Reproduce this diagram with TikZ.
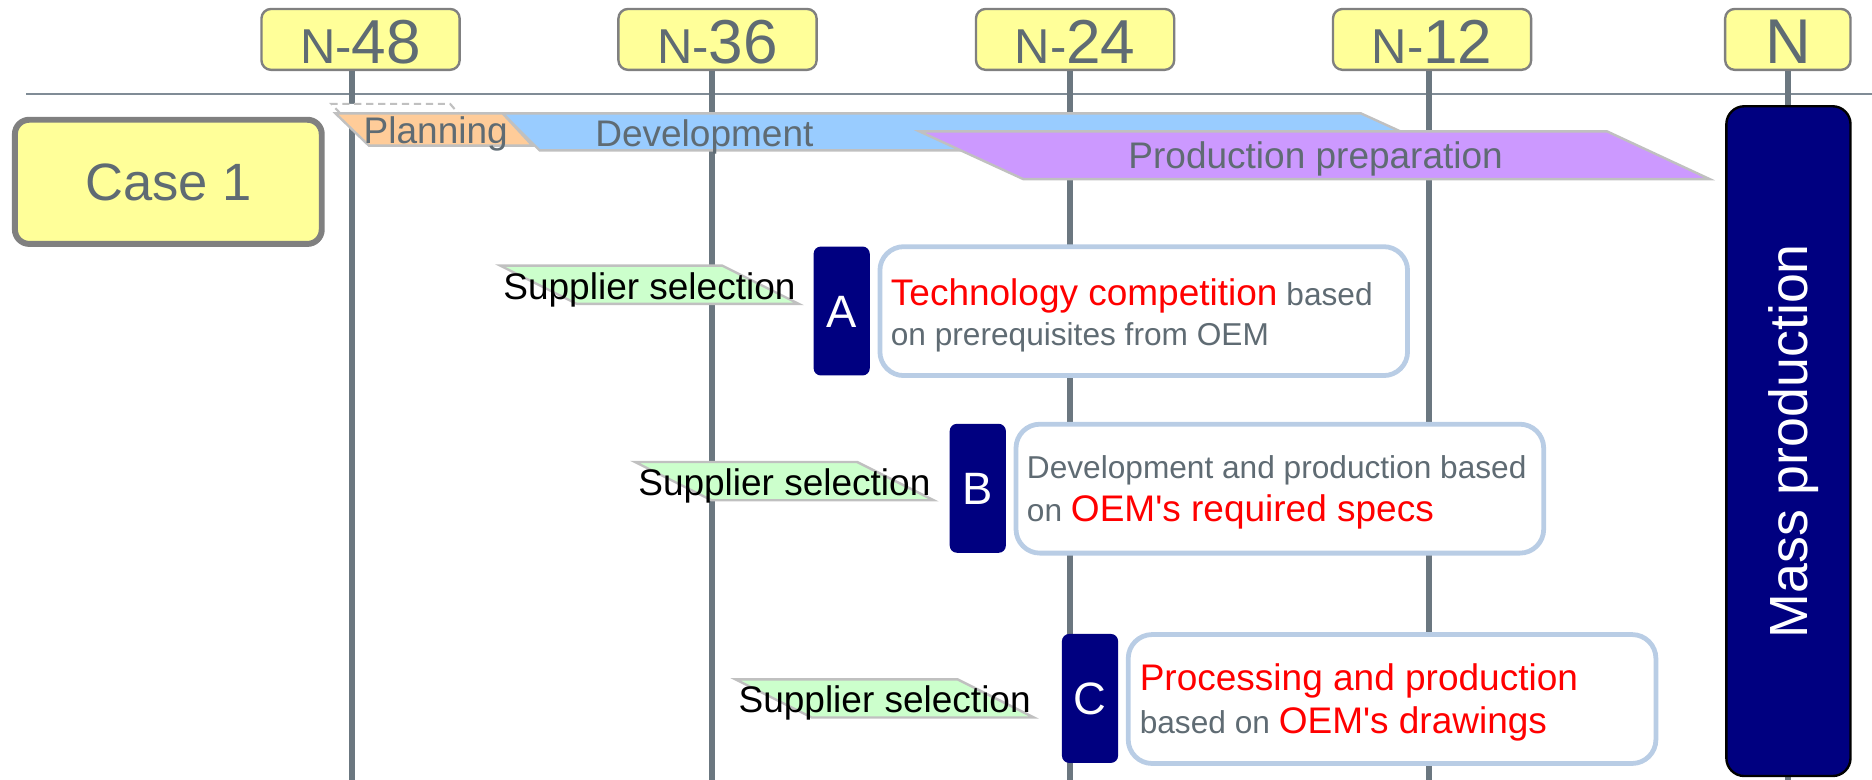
\documentclass[tikz,border=0pt]{standalone}
\usepackage{fontspec}
\setmainfont{Liberation Sans}[Ligatures=TeXOff]
\definecolor{slate}{RGB}{95,107,115}
\definecolor{vlinec}{RGB}{107,119,128}
\definecolor{hlinec}{RGB}{128,140,150}
\definecolor{boxgray}{RGB}{128,128,128}
\definecolor{lyellow}{RGB}{255,255,153}
\definecolor{navyc}{RGB}{0,0,128}
\definecolor{lblue}{RGB}{185,205,229}
\definecolor{lgreen}{RGB}{204,255,204}
\definecolor{bandb}{RGB}{192,192,192}
\definecolor{planc}{RGB}{255,204,153}
\definecolor{devc}{RGB}{153,204,255}
\definecolor{prodc}{RGB}{204,153,255}
\definecolor{redc}{RGB}{255,0,0}
\newcommand\myfs[1]{\fontsize{#1}{#1}\selectfont}
\begin{document}
\begin{tikzpicture}[x=1pt,y=-1pt,
  topbox/.style={draw=boxgray, line width=2pt, fill=lyellow, rounded corners=8pt,
    minimum width=166pt, minimum height=51pt, inner sep=0pt, text=slate,
    text height=40pt, text depth=0pt},
  casebox/.style={draw=boxgray, line width=5pt, fill=lyellow, rounded corners=12pt,
    minimum width=257pt, minimum height=104pt, inner sep=0pt, text=slate,
    font=\myfs{44}, text height=31.5pt, text depth=0pt},
  vline/.style={draw=vlinec, line width=5pt},
  hline/.style={draw=hlinec, line width=1.7pt},
  band/.style={draw=bandb, line width=2pt, line join=miter},
  bandtext/.style={text=slate, font=\myfs{31}, inner sep=0pt, text height=22.2pt, text depth=0pt},
  tagtext/.style={text=black, font=\myfs{31}, inner sep=0pt, text height=22.2pt, text depth=0pt},
  letterbox/.style={fill=navyc, rounded corners=6pt, minimum width=47pt, minimum height=108pt,
    inner sep=0pt, text=white, font=\myfs{38}, text height=27pt, text depth=0pt},
  descbox/.style={draw=lblue, line width=4pt, fill=white, rounded corners=20pt,
    minimum width=442pt, minimum height=108pt, inner sep=0pt},
  desctext/.style={anchor=base west, inner sep=0pt, text=slate, font=\myfs{26.5}},
  massbox/.style={rotate=90, fill=navyc, draw=black, line width=2pt, rounded corners=15pt,
    minimum width=561pt, minimum height=104pt, inner sep=0pt, text=white,
    font=\myfs{45}, text height=32pt, text depth=0pt}
]
\useasboundingbox (0,0) rectangle (1568,653);

% horizontal rule
\coordinate (hl) at (22,79);
\coordinate (hr) at (1568,79);
\draw[hline] (hl) -- (hr);

% top boxes
\node[topbox] (t48) at (302,33) {{\myfs{41}N-}{\myfs{52}48}};
\node[topbox] (t36) at (601,33) {{\myfs{41}N-}{\myfs{52}36}};
\node[topbox] (t24) at (900.5,33) {{\myfs{41}N-}{\myfs{52}24}};
\node[topbox] (t12) at (1199.5,33) {{\myfs{41}N-}{\myfs{52}12}};
\node[topbox, minimum width=105pt] (tn) at (1497.5,33) {\myfs{53}N};

% vertical lines
\coordinate (b48) at (295,653);
\coordinate (b36) at (596,653);
\coordinate (b24) at (896.5,653);
\coordinate (b12) at (1197.3,653);
\coordinate (bn) at (1498,653);
\draw[vline] (t48.south -| b48) -- (b48);
\draw[vline] (t36.south -| b36) -- (b36);
\draw[vline] (t24.south -| b24) -- (b24);
\draw[vline] (t12.south -| b12) -- (b12);
\draw[vline] (tn.south -| bn) -- (bn);

% case box
\node[casebox] (case) at (141,152.3) {Case 1};

% phase bands
\fill[white] (277.6,87) -- (377,87) -- (384,95) -- (285,95) -- cycle;
\draw[bandb, line width=1.8pt, dash pattern=on 6pt off 4pt] (285,95) -- (277.6,87) -- (377,87) -- (384,95);
\draw[band, fill=devc] (421,95) -- (1140,95) -- (1208,126) -- (452,126) -- cycle;
\draw[band, fill=planc] (281,95) -- (421,95) -- (446,122) -- (309,122) -- cycle;
\draw[band, fill=prodc] (770,110) -- (1346,110) -- (1432,150) -- (857,150) -- cycle;
\node[bandtext] (plan) at (365,109.5) {Planning};
\node[bandtext] (dev) at (590,112) {Development};
\node[bandtext] (prod) at (1102,130) {Production preparation};

% supplier selection tags
\draw[band, fill=lgreen] (419,222.5) -- ++(186,0) -- ++(64,32) -- ++(-186,0) -- cycle;
\draw[band, fill=lgreen] (532,387) -- ++(186,0) -- ++(64,32) -- ++(-186,0) -- cycle;
\draw[band, fill=lgreen] (616,569) -- ++(186,0) -- ++(64,32) -- ++(-186,0) -- cycle;
\node[tagtext] (s1) at (544,239.5) {Supplier selection};
\node[tagtext] (s2) at (657,404) {Supplier selection};
\node[tagtext] (s3) at (741,586) {Supplier selection};

% letter boxes
\node[letterbox] (la) at (705,260.5) {A};
\node[letterbox] (lb) at (819,409) {B};
\node[letterbox] (lc) at (913,585) {C};

% description boxes
\node[descbox] (da) at (958,260.6) {};
\node[descbox] (db) at (1072,409.3) {};
\node[descbox] (dc) at (1166,585.5) {};

\node[desctext] (a1) at (746,255.5) {{\myfs{31}\color{redc}Technology competition} based};
\node[desctext] (a2) at (746,289) {on prerequisites from OEM};
\node[desctext] (b1) at (860,400.5) {Development and production based};
\node[desctext] (b2) at (860,437) {on {\myfs{31}\color{redc}OEM's required specs}};
\node[desctext] (c1) at (954.5,578) {{\myfs{31}\color{redc}Processing and production}};
\node[desctext] (c2) at (954.5,614) {based on {\myfs{31}\color{redc}OEM's drawings}};

% mass production
\node[massbox] (mp) at (1498,369.5) {Mass production};
\end{tikzpicture}
\end{document}
